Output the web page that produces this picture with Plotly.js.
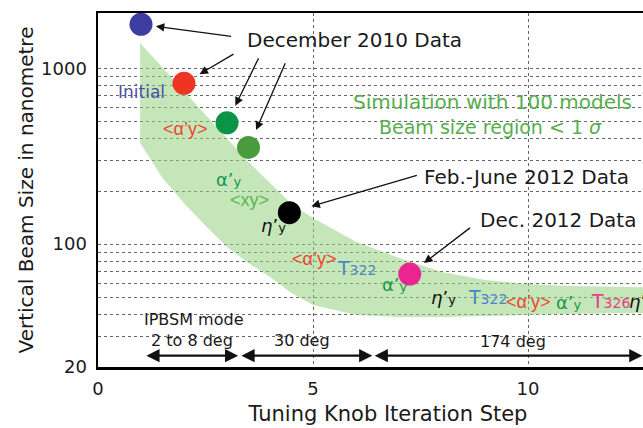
<!DOCTYPE html>
<html><head><meta charset="utf-8">
<script src="https://cdn.plot.ly/plotly-3.0.1.min.js"></script>
<style>html,body{margin:0;padding:0;overflow:hidden;background:#fff}#chart{width:700px;height:428px}</style>
</head><body><div id="chart"></div>
<script>
// ---- data ----
const dataSteps = [1.0, 2.0, 3.0, 3.5, 4.45, 7.25];
const beamSizes = [1780, 822, 490, 355, 151, 67.6];
const pointColors = ['#3c3da0', '#ee3524', '#0a9447', '#4a9a3e', '#000000', '#ea2490'];

const bandSteps = [0.98, 1.5, 2, 2.5, 3, 3.5, 4, 4.5, 5, 6, 7, 8, 9, 10, 11, 12, 13, 14];
const bandUpper = [1393, 1008, 740, 543, 399, 293, 223, 169, 141, 103, 83.4, 69.5, 62.5, 59.3, 57.8, 57.0, 56.3, 56.0];
const bandLower = [376, 238, 171, 127, 96.3, 78.1, 65.0, 52.7, 45.0, 39.5, 38.5, 38.5, 39.0, 39.5, 40.0, 40.5, 40.5, 40.5];

const xTickVals = [0, 5, 10];
const xTickText = ['0', '5', '10'];
const yGridVals = [20, 30, 40, 50, 60, 70, 80, 90, 100, 200, 300, 400, 500, 600, 700, 800, 900, 1000];
const yTickText = ['20', '', '', '', '', '', '', '', '100', '', '', '', '', '', '', '', '', '1000'];

const modeStarts = [1.09, 3.30, 6.40];
const modeEnds = [3.26, 6.38, 12.66];

// ---- layout geometry ----
const L = 98, T = 13, W = 580, H = 354, FW = 700, FH = 428;
const PX_PER_STEP = 43;
function at(px, py) { return {xref: 'paper', yref: 'paper', x: (px - L) / W, y: 1 - (py - T) / H}; }

const FONT = 'DejaVu Sans, Verdana, sans-serif';
const SANS = 'Liberation Sans, Arial, sans-serif';
const small = (t, s) => '<span style="font-size:' + s + 'px">' + t + '</span>';

function label(px, py, text, color, size, family, extra) {
  return Object.assign(at(px, py), {
    text: text, showarrow: false, xanchor: 'center', yanchor: 'middle',
    font: {family: family || FONT, size: size, color: color}
  }, extra || {});
}

const ALPHA = 'α’' + small('y', 13);
const ETA = '<i>η</i>’' + small('y', 13);
const T322 = 'T' + small('322', 14);
const T326 = 'T' + small('326', 14);
const AVG = '&lt;α’y&gt;';

const annotations = [
  label(354.7, 40, 'December 2010 Data', '#1a1a1a', 20),
  label(526.7, 177, 'Feb.-June 2012 Data', '#1a1a1a', 20),
  label(557.5, 220, 'Dec. 2012 Data', '#1a1a1a', 20),
  label(492, 102, 'Simulation with 100 models', '#55ae4e', 20),
  label(490, 127, 'Beam size region &lt; 1 <i>σ</i>', '#55ae4e', 19),
  label(141.7, 91.5, 'Initial', '#4b4faa', 17),
  label(185, 129, AVG, '#ee4430', 18, SANS),
  label(229, 179, ALPHA, '#14994a', 18),
  label(249, 200, '&lt;xy&gt;', '#5ab552', 18, SANS),
  label(273.7, 226, ETA, '#111', 18),
  label(313.7, 259, AVG, '#ee4430', 18, SANS),
  label(356, 268, T322, '#4a86c8', 19),
  label(394.7, 284, ALPHA, '#14994a', 18),
  label(443.7, 297, ETA, '#111', 18),
  label(487, 297, T322, '#4a86c8', 19),
  label(527.5, 301.5, AVG, '#ee4430', 18, SANS),
  label(569, 302, ALPHA, '#14994a', 18),
  label(610.5, 301, T326, '#e83e8c', 19),
  label(627, 301, ETA, '#111', 18, null, {xanchor: 'left'}),
  label(193.3, 319.3, 'IPBSM mode', '#1a1a1a', 16),
  label(191.7, 340.7, '2 to 8 deg', '#1a1a1a', 16),
  label(301.7, 340.7, '30 deg', '#1a1a1a', 16),
  label(512.5, 341.7, '174 deg', '#1a1a1a', 16)
];

// arrows pointing to the data points (tail offsets in px, standoff in px)
const arrowTails = [[91.6, 12.4, 15], [51, -30, 18], [32.3, -66, 19], [37.4, -85.6, 19], [129, -37.7, 23], [61.7, -47.3, 18]];
dataSteps.forEach((s, i) => {
  annotations.push({
    xref: 'x', yref: 'y', x: s, y: Math.log10(beamSizes[i]), text: '',
    showarrow: true, ax: arrowTails[i][0], ay: arrowTails[i][1], standoff: arrowTails[i][2],
    arrowhead: 2, arrowsize: 1.3, arrowwidth: 1.3, arrowcolor: '#111'
  });
});
// IPBSM mode ranges (double arrows)
const arrowY = 1 - (355.7 - T) / H;
modeStarts.forEach((s, i) => {
  annotations.push({
    xref: 'x', yref: 'paper', x: modeEnds[i], y: arrowY, axref: 'x', ayref: 'pixel',
    ax: s, ay: 0, text: '', showarrow: true, arrowside: 'end+start',
    arrowhead: 2, arrowsize: 1.2, arrowwidth: 2.2, arrowcolor: '#111', standoff: 0, startstandoff: 0
  });
});

const traces = [
  {
    type: 'scatter', mode: 'lines',
    x: bandSteps.concat(bandSteps.slice().reverse()),
    y: bandUpper.concat(bandLower.slice().reverse()),
    fill: 'toself', fillcolor: 'rgba(150,210,125,0.55)', line: {width: 0},
    hoverinfo: 'skip'
  },
  {
    type: 'scatter', mode: 'markers', x: dataSteps, y: beamSizes,
    marker: {size: 23, color: pointColors, line: {width: 0}}, cliponaxis: false
  }
];

const axisCommon = {
  showline: true, linecolor: '#000', linewidth: 2.5, mirror: true,
  showgrid: true, gridcolor: '#666', gridwidth: 1, griddash: 'dot',
  zeroline: false, ticks: '', tickfont: {family: FONT, size: 18, color: '#1a1a1a'}
};

const layout = {
  width: FW, height: FH,
  margin: {l: L, r: FW - L - W, t: T, b: FH - T - H},
  paper_bgcolor: '#fff', plot_bgcolor: '#fff', showlegend: false,
  font: {family: FONT, color: '#1a1a1a'},
  xaxis: Object.assign({}, axisCommon, {
    range: [0, W / PX_PER_STEP], tickmode: 'array', tickvals: xTickVals, ticktext: xTickText,
    ticklabelstandoff: 4,
    title: {text: 'Tuning Knob Iteration Step', font: {family: FONT, size: 21, color: '#1a1a1a'}, standoff: 8}
  }),
  yaxis: Object.assign({}, axisCommon, {
    type: 'log', range: [Math.log10(20), 3.3146], tickmode: 'array', tickvals: yGridVals, ticktext: yTickText,
    ticklabelstandoff: 5,
    title: {text: 'Vertical Beam Size in nanometre', font: {family: FONT, size: 20, color: '#1a1a1a'}, standoff: 2}
  }),
  annotations: annotations
};

Plotly.newPlot('chart', traces, layout, {staticPlot: true, displayModeBar: false});
</script>
</body></html>
